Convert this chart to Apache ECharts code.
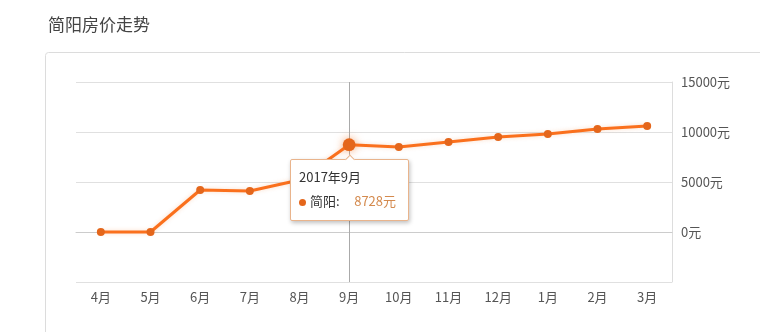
<!DOCTYPE html>
<html>
<head>
<meta charset="utf-8">
<title>简阳房价走势</title>
<script src="https://cdn.jsdelivr.net/npm/echarts@6/dist/echarts.min.js"></script>
<style>
    html, body { margin: 0; padding: 0; background: #fff; }
    #main { width: 760px; height: 332px; }
</style>
</head>
<body>
<div id="main"></div>
<script>
var months = ['4月', '5月', '6月', '7月', '8月', '9月', '10月', '11月', '12月', '1月', '2月', '3月'];
var years = [2017, 2017, 2017, 2017, 2017, 2017, 2017, 2017, 2017, 2018, 2018, 2018];
var prices = [0, 0, 4200, 4100, 5200, 8728, 8500, 9000, 9500, 9800, 10300, 10600];
var yTicks = [-5000, 0, 5000, 10000, 15000];
var activeIndex = 5;

var orange = '#e4661b';
var font = '"Noto Sans CJK SC", "Noto Sans", sans-serif';

var chart = echarts.init(document.getElementById('main'));

var option = {
    animation: false,
    textStyle: { fontFamily: font },
    title: {
        text: '简阳房价走势',
        left: 43,
        top: 11,
        textStyle: { fontSize: 17, fontWeight: 'normal', color: '#444', fontFamily: font }
    },
    graphic: [{
        type: 'rect',
        left: 45,
        top: 52,
        shape: { width: 740, height: 320, r: 3 },
        style: { fill: '#fff', stroke: '#dcdcdc', lineWidth: 1 },
        z: -10,
        silent: true
    }],
    grid: {
        left: 76,
        right: 88,
        top: 82,
        bottom: 50
    },
    tooltip: {
        trigger: 'item',
        triggerOn: 'none',
        alwaysShowContent: true,
        position: 'bottom',
        backgroundColor: '#fff',
        borderColor: '#e9b48c',
        borderWidth: 1,
        padding: [5, 12, 7, 8],
        extraCssText: 'box-shadow: 1px 2px 4px rgba(0,0,0,0.25); border-radius: 2px;',
        formatter: function (p) {
            var i = p.dataIndex;
            return '<div style="font-size:13px;color:#333;line-height:24px;font-family:' + font.replace(/"/g, "'") + '">' +
                years[i] + '年' + months[i] + '<br/>' +
                '<span style="display:inline-block;width:7px;height:7px;border-radius:50%;background:' + orange + ';margin-right:4px;vertical-align:middle"></span>' +
                '简阳:&nbsp;&nbsp;&nbsp;&nbsp;&nbsp;<span style="color:#d48a4e">' + p.value + '元</span></div>';
        }
    },
    xAxis: {
        type: 'category',
        data: months,
        boundaryGap: true,
        axisLine: { lineStyle: { color: '#ccc' } },
        axisTick: { alignWithLabel: true, length: 4, lineStyle: { color: '#ccc' } },
        axisLabel: { color: '#555', fontSize: 13, margin: 9 },
        splitLine: { show: false }
    },
    yAxis: {
        type: 'value',
        position: 'right',
        min: yTicks[0],
        max: yTicks[yTicks.length - 1],
        interval: 5000,
        axisLine: { show: true, lineStyle: { color: '#ddd' } },
        axisTick: { show: false },
        axisLabel: {
            color: '#555',
            fontSize: 13,
            margin: 9,
            formatter: function (v) {
                return v < 0 ? '' : v + '元';
            }
        },
        splitLine: { lineStyle: { color: '#e0e0e0' } }
    },
    series: [{
        name: '简阳',
        type: 'line',
        data: prices,
        symbol: 'circle',
        symbolSize: 8,
        itemStyle: { color: orange },
        lineStyle: {
            color: orange,
            width: 3,
            shadowColor: 'rgba(240,120,40,0.25)',
            shadowBlur: 4
        },
        emphasis: {
            scale: 1.6,
            lineStyle: { width: 3 },
            itemStyle: {
                color: orange,
                shadowColor: 'rgba(240,110,30,0.6)',
                shadowBlur: 8
            }
        },
        markLine: {
            silent: true,
            symbol: 'none',
            label: { show: false },
            lineStyle: { color: '#aaa', width: 1, type: 'solid' },
            data: [{ xAxis: months[activeIndex] }],
            z: 1
        }
    }]
};

chart.setOption(option);
chart.dispatchAction({ type: 'highlight', seriesIndex: 0, dataIndex: activeIndex });
chart.dispatchAction({ type: 'showTip', seriesIndex: 0, dataIndex: activeIndex });
</script>
</body>
</html>
